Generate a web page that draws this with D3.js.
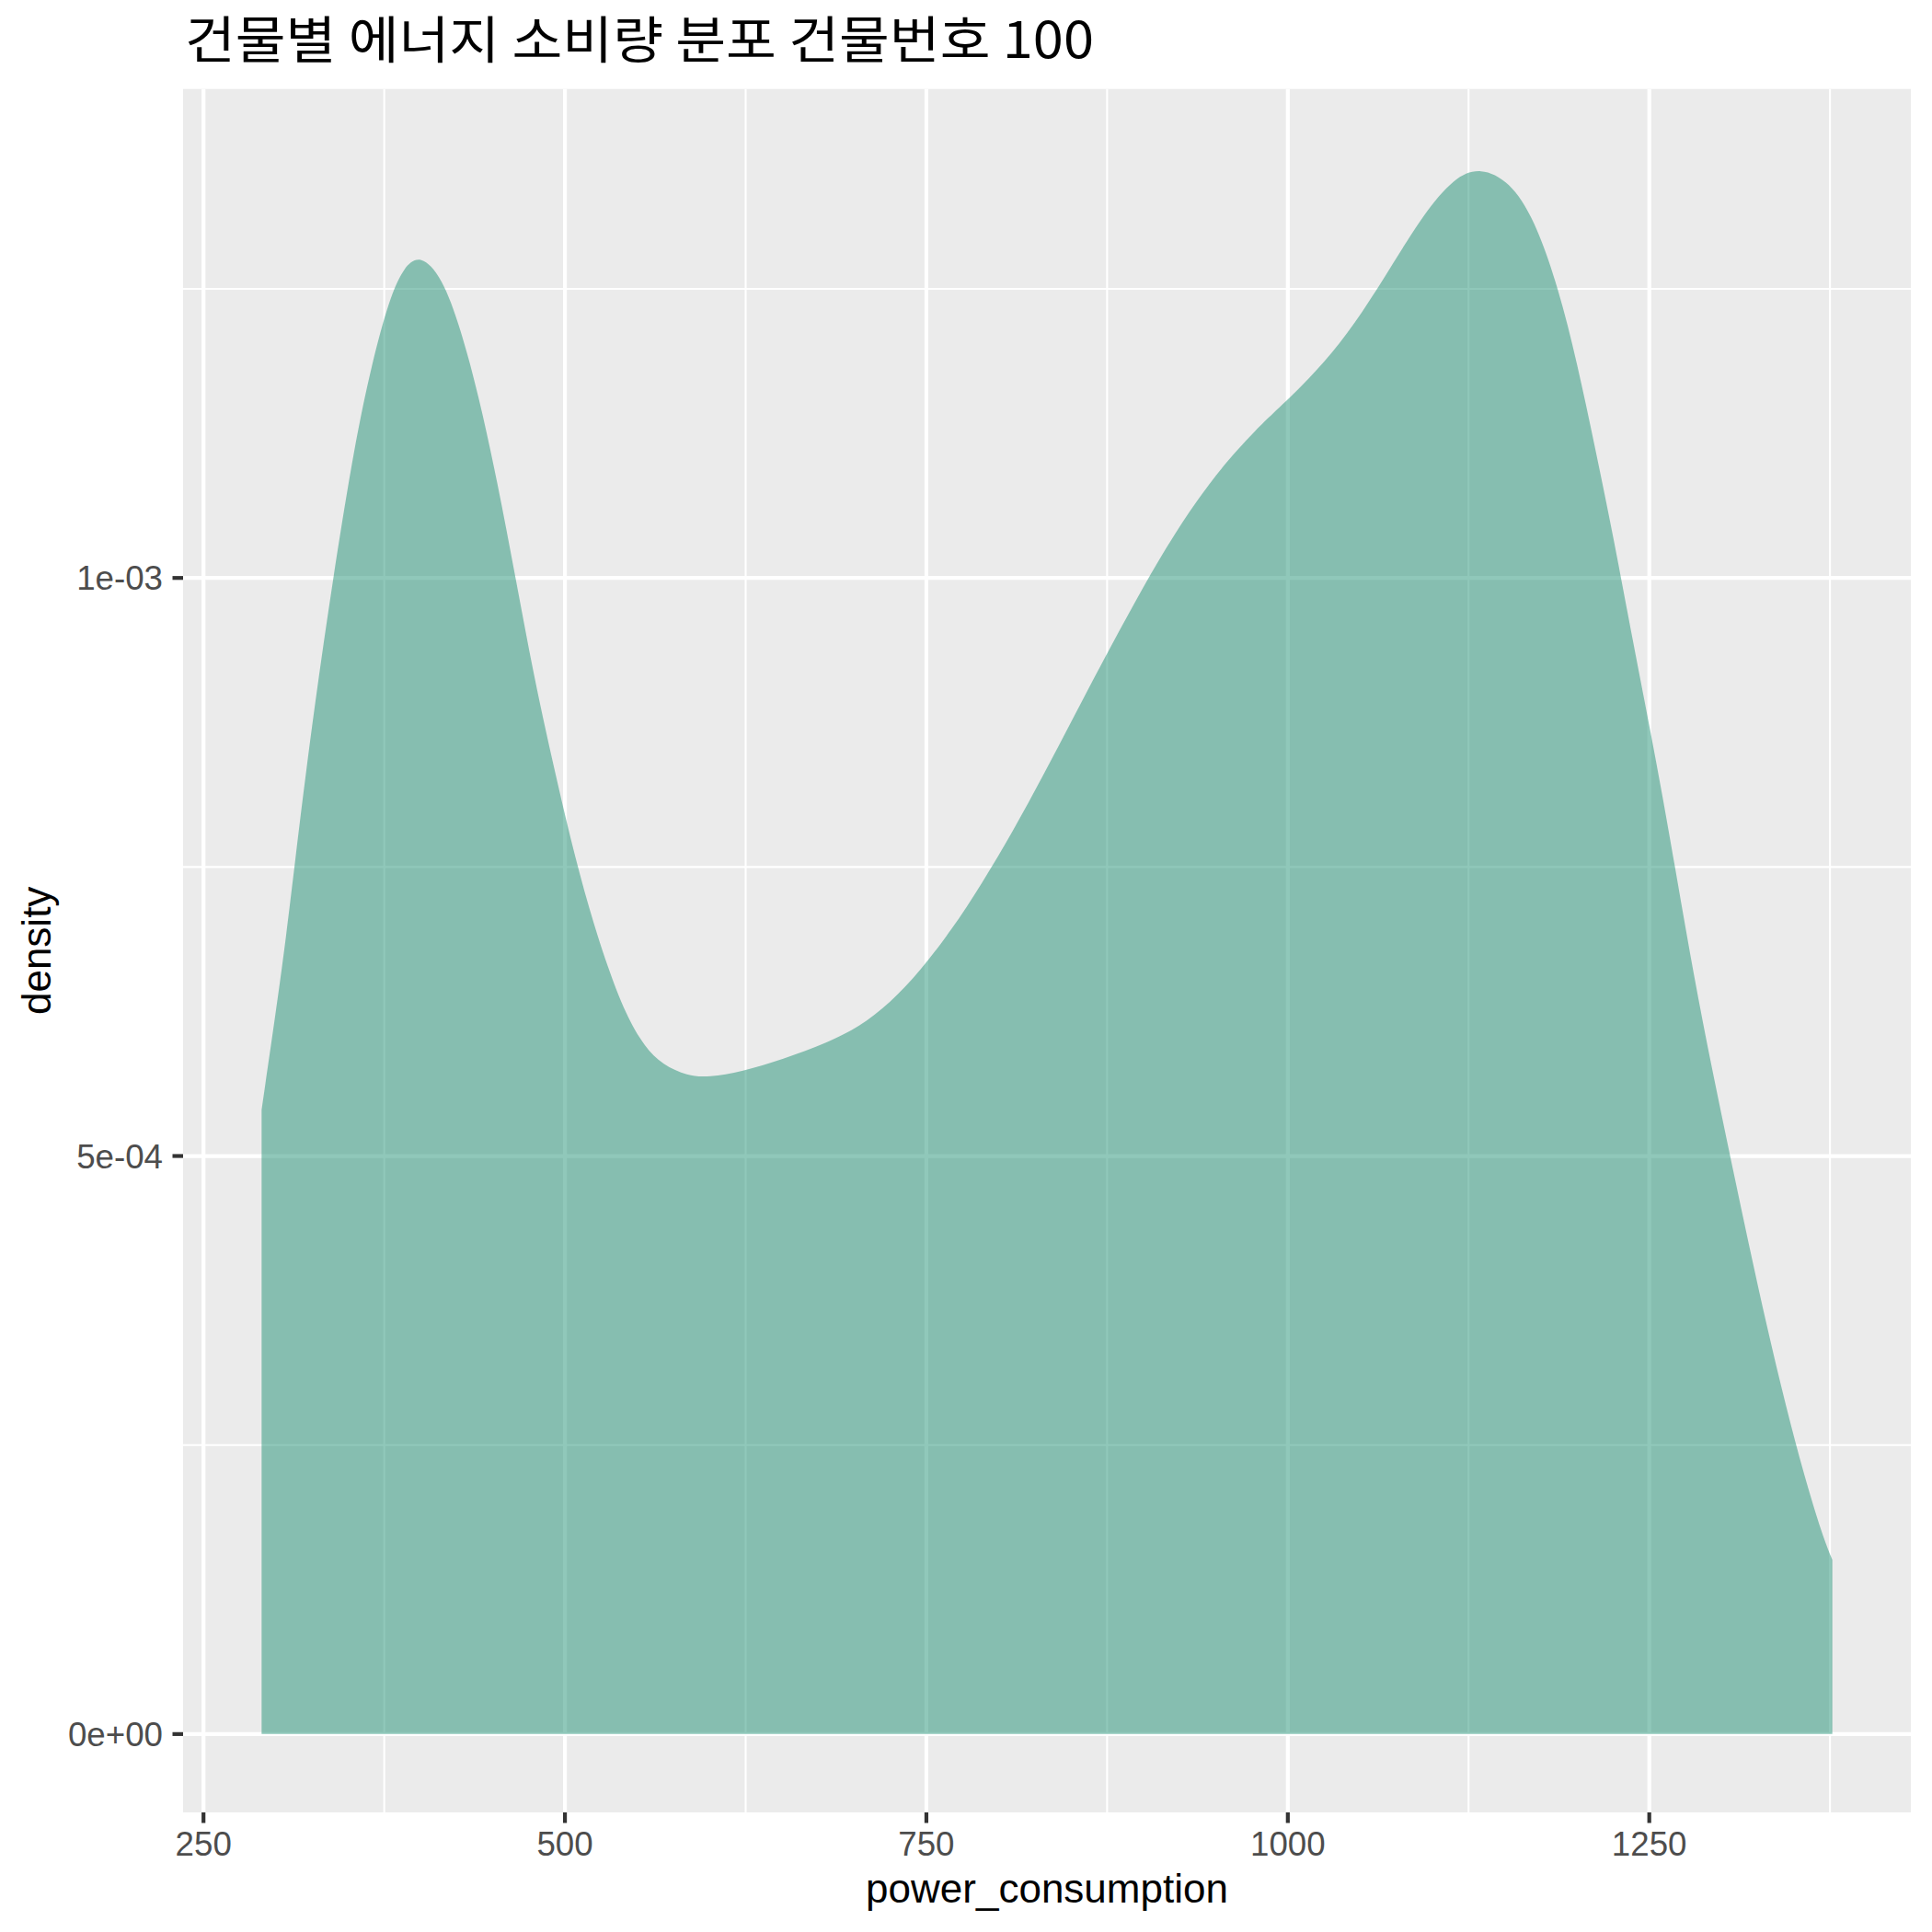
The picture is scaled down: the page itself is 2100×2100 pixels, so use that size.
<!DOCTYPE html>
<head>
  <meta charset="utf-8">
  <script src="https://d3js.org/d3.v7.min.js"></script>
  <style>
    body { margin: 0; background: #fff; }
    .tick-label { font-family: "Liberation Sans", Arial, sans-serif; font-size: 36.7px; fill: #4d4d4d; }
    .axis-title { font-family: "Liberation Sans", Arial, sans-serif; font-size: 44px; fill: #000; }
    .plot-title { font-family: "Noto Sans CJK KR", sans-serif; font-size: 55px; fill: #000; }
  </style>
</head>
<body>
  <script>
    var width = 2100, height = 2100;

    // density curve (x = power_consumption, y = density)
    var consumption = [290.2, 305.6, 312.8, 325.1, 339.6, 354.3, 366.5, 378.6, 388.4, 400.1,
      414.9, 427.6, 440.4, 453.1, 465.8, 478.5, 491.3, 504.0, 516.7, 529.5,
      542.2, 554.9, 567.7, 584.7, 599.5, 622.3, 650.4, 682.3, 703.5, 724.7,
      745.9, 767.1, 788.4, 809.6, 830.8, 852.0, 873.3, 894.4, 915.7, 936.9,
      958.1, 979.4, 987.9, 1009.1, 1030.3, 1051.5, 1072.7, 1093.9, 1115.2, 1133.2,
      1153.4, 1170.4, 1187.3, 1200.0, 1212.7, 1225.5, 1238.2, 1255.2, 1267.9, 1280.6,
      1293.4, 1306.1, 1318.8, 1331.6, 1344.3, 1357.1, 1369.8, 1376.6];
    var density = [0.000540, 0.000672, 0.000750, 0.000875, 0.001000, 0.001114, 0.001186, 0.0012415, 0.001269, 0.001280,
      0.0012604, 0.0012169, 0.0011574, 0.0010842, 0.0010004, 0.0009149, 0.0008418, 0.0007731, 0.0007135, 0.0006632,
      0.000622, 0.0005947, 0.0005786, 0.0005694, 0.000568, 0.000573, 0.0005835, 0.0005985, 0.0006116, 0.0006319,
      0.0006604, 0.0006949, 0.0007356, 0.0007803, 0.0008291, 0.000880, 0.0009308, 0.0009796, 0.0010264, 0.001067,
      0.0011016, 0.001130, 0.0011402, 0.0011652, 0.0011936, 0.0012292, 0.0012719, 0.0013146, 0.0013467, 0.0013552,
      0.0013431, 0.001311, 0.0012505, 0.0011865, 0.0011118, 0.0010335, 0.000948, 0.0008396, 0.0007496, 0.000657,
      0.000575, 0.000499, 0.0004235, 0.000351, 0.0002845, 0.0002235, 0.0001715, 0.0001507];

    var xTicks = [250, 500, 750, 1000, 1250];
    var xMinor = [375, 625, 875, 1125, 1375];
    var yTicks = [0, 0.0005, 0.001];
    var yMinor = [0.00025, 0.00075, 0.00125];
    var yTickLabels = ["0e+00", "5e-04", "1e-03"];

    var titleText = "건물별 에너지 소비량 분포 건물번호 100";
    var xTitle = "power_consumption";
    var yTitle = "density";

    var panel = { left: 199, right: 2077, top: 96.7, bottom: 1970 };

    var svg = d3.select("body").append("svg")
        .attr("width", width)
        .attr("height", height);
    svg.append("rect").attr("width", width).attr("height", height).attr("fill", "#fff");

    // ggplot style 5% expansion
    var xr = d3.extent(consumption);
    var xpad = (xr[1] - xr[0]) * 0.05;
    var x = d3.scaleLinear().domain([xr[0] - xpad, xr[1] + xpad]).range([panel.left, panel.right]);
    var ymax = d3.max(density);
    var y = d3.scaleLinear().domain([-ymax * 0.05, ymax * 1.05]).range([panel.bottom, panel.top]);

    svg.append("rect")
        .attr("x", panel.left).attr("y", panel.top)
        .attr("width", panel.right - panel.left).attr("height", panel.bottom - panel.top)
        .attr("fill", "#ebebeb");

    var grid = svg.append("g");
    grid.selectAll("line.xminor").data(xMinor).enter().append("line")
        .attr("x1", d => x(d)).attr("x2", d => x(d))
        .attr("y1", panel.top).attr("y2", panel.bottom)
        .attr("stroke", "#fff").attr("stroke-width", 2.1);
    grid.selectAll("line.yminor").data(yMinor).enter().append("line")
        .attr("y1", d => y(d)).attr("y2", d => y(d))
        .attr("x1", panel.left).attr("x2", panel.right)
        .attr("stroke", "#fff").attr("stroke-width", 2.1);
    grid.selectAll("line.xmajor").data(xTicks).enter().append("line")
        .attr("x1", d => x(d)).attr("x2", d => x(d))
        .attr("y1", panel.top).attr("y2", panel.bottom)
        .attr("stroke", "#fff").attr("stroke-width", 4.2);
    grid.selectAll("line.ymajor").data(yTicks).enter().append("line")
        .attr("y1", d => y(d)).attr("y2", d => y(d))
        .attr("x1", panel.left).attr("x2", panel.right)
        .attr("stroke", "#fff").attr("stroke-width", 4.2);

    var pts = consumption.map((c, i) => [c, density[i]]);
    var area = d3.area()
        .x(d => x(d[0]))
        .y0(y(0))
        .y1(d => y(d[1]))
        .curve(d3.curveBasis);
    svg.append("path")
        .datum(pts)
        .attr("d", area)
        .attr("fill", "#219175")
        .attr("fill-opacity", 0.5);

    // axes
    var xAxis = svg.append("g");
    xAxis.selectAll("line").data(xTicks).enter().append("line")
        .attr("x1", d => x(d)).attr("x2", d => x(d))
        .attr("y1", panel.bottom).attr("y2", panel.bottom + 11.5)
        .attr("stroke", "#333").attr("stroke-width", 4.2);
    xAxis.selectAll("text").data(xTicks).enter().append("text")
        .attr("class", "tick-label")
        .attr("x", d => x(d)).attr("y", 2017)
        .attr("text-anchor", "middle")
        .text(d => d);

    var yAxis = svg.append("g");
    yAxis.selectAll("line").data(yTicks).enter().append("line")
        .attr("y1", d => y(d)).attr("y2", d => y(d))
        .attr("x1", panel.left - 11.5).attr("x2", panel.left)
        .attr("stroke", "#333").attr("stroke-width", 4.2);
    yAxis.selectAll("text").data(yTicks).enter().append("text")
        .attr("class", "tick-label")
        .attr("x", 177).attr("y", d => y(d) + 13)
        .attr("text-anchor", "end")
        .text((d, i) => yTickLabels[i]);

    svg.append("text").attr("class", "axis-title")
        .attr("x", (panel.left + panel.right) / 2).attr("y", 2068)
        .attr("text-anchor", "middle")
        .text(xTitle);
    svg.append("text").attr("class", "axis-title")
        .attr("transform", "translate(55," + ((panel.top + panel.bottom) / 2) + ") rotate(-90)")
        .attr("text-anchor", "middle")
        .text(yTitle);

    svg.append("text").attr("class", "plot-title")
        .attr("x", panel.left + 2).attr("y", 63)
        .attr("textLength", 988)
        .attr("lengthAdjust", "spacingAndGlyphs")
        .text(titleText);
  </script>
</body>
